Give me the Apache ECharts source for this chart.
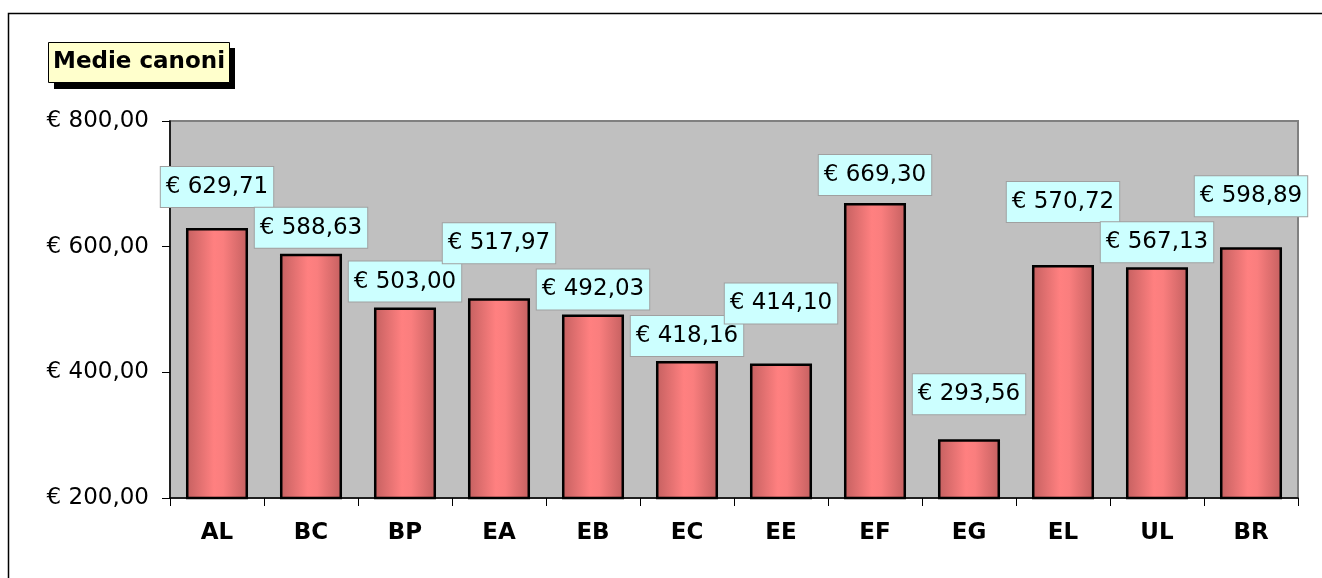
<!DOCTYPE html>
<html>
<head>
<meta charset="utf-8">
<script src="https://cdn.jsdelivr.net/npm/echarts@6/dist/echarts.min.js"></script>
<style>
  html, body { margin: 0; padding: 0; background: #fff; }
  #chart { width: 1322px; height: 578px; }
</style>
</head>
<body>
<div id="chart"></div>
<script>
// data
const categories = ["AL", "BC", "BP", "EA", "EB", "EC", "EE", "EF", "EG", "EL", "UL", "BR"];
const canoni = [629.71, 588.63, 503.00, 517.97, 492.03, 418.16, 414.10, 669.30, 293.56, 570.72, 567.13, 598.89];
const yTicks = [200, 400, 600, 800];

// how far each label box sits above its bar (px)
const labelLift = [21, 6, 6, 35, 5, 5, 40, 8, 25, 43, 5, 31];

const fmtEuro = v => "€ " + v.toFixed(2).replace(".", ",");

const barFill = {
  type: "linear", x: 0, y: 0, x2: 1, y2: 0,
  colorStops: [
    { offset: 0, color: "#C46060" },
    { offset: 0.45, color: "#FF8080" },
    { offset: 0.6, color: "#FA7E7E" },
    { offset: 1, color: "#C46060" }
  ]
};

const chart = echarts.init(document.getElementById("chart"));

const option = {
  animation: false,
  textStyle: { fontFamily: "DejaVu Sans" },
  graphic: [
    {
      type: "rect",
      shape: { x: 8.5, y: 13.5, width: 1400, height: 700 },
      style: { fill: "none", stroke: "#000", lineWidth: 1.5 },
      z: -10
    },
    {
      type: "rect",
      shape: { x: 54, y: 48, width: 181, height: 41 },
      style: { fill: "#000" },
      z: 0
    }
  ],
  title: {
    text: "Medie canoni",
    left: 48,
    top: 42,
    padding: [7, 5, 7, 5],
    backgroundColor: "#FFFFCC",
    borderColor: "#000",
    borderWidth: 1,
    textStyle: { fontFamily: "DejaVu Sans", fontSize: 23, lineHeight: 27, fontWeight: "bold", color: "#000" },
    z: 10
  },
  grid: {
    left: 170, right: 24, top: 121, bottom: 80,
    show: true,
    backgroundColor: "#C0C0C0",
    borderColor: "#808080",
    borderWidth: 2
  },
  xAxis: {
    type: "category",
    data: categories,
    axisLine: { lineStyle: { color: "#000", width: 1.5 } },
    axisTick: { show: true, length: 8, alignWithLabel: false, lineStyle: { color: "#000", width: 1 } },
    axisLabel: { fontSize: 23, fontWeight: "bold", color: "#000", margin: 24 }
  },
  yAxis: {
    type: "value",
    min: yTicks[0],
    max: yTicks[yTicks.length - 1],
    interval: yTicks[1] - yTicks[0],
    axisLine: { show: true, lineStyle: { color: "#000", width: 1.5 } },
    axisTick: { show: true, length: 8, lineStyle: { color: "#000", width: 1 } },
    splitLine: { show: false },
    axisLabel: { fontSize: 23, color: "#000", margin: 21, formatter: v => fmtEuro(v) }
  },
  series: [{
    type: "bar",
    barWidth: "66%",
    data: canoni.map((v, i) => ({
      value: v,
      label: { distance: labelLift[i] }
    })),
    itemStyle: { color: barFill, borderColor: "#000", borderWidth: 2.5 },
    label: {
      show: true,
      position: "top",
      fontSize: 23,
      lineHeight: 26,
      color: "#000",
      backgroundColor: "#CCFFFF",
      borderColor: "#A0A0A0",
      borderWidth: 1,
      padding: [7, 5, 7, 5],
      formatter: p => fmtEuro(p.value)
    }
  }]
};

chart.setOption(option);
</script>
</body>
</html>
